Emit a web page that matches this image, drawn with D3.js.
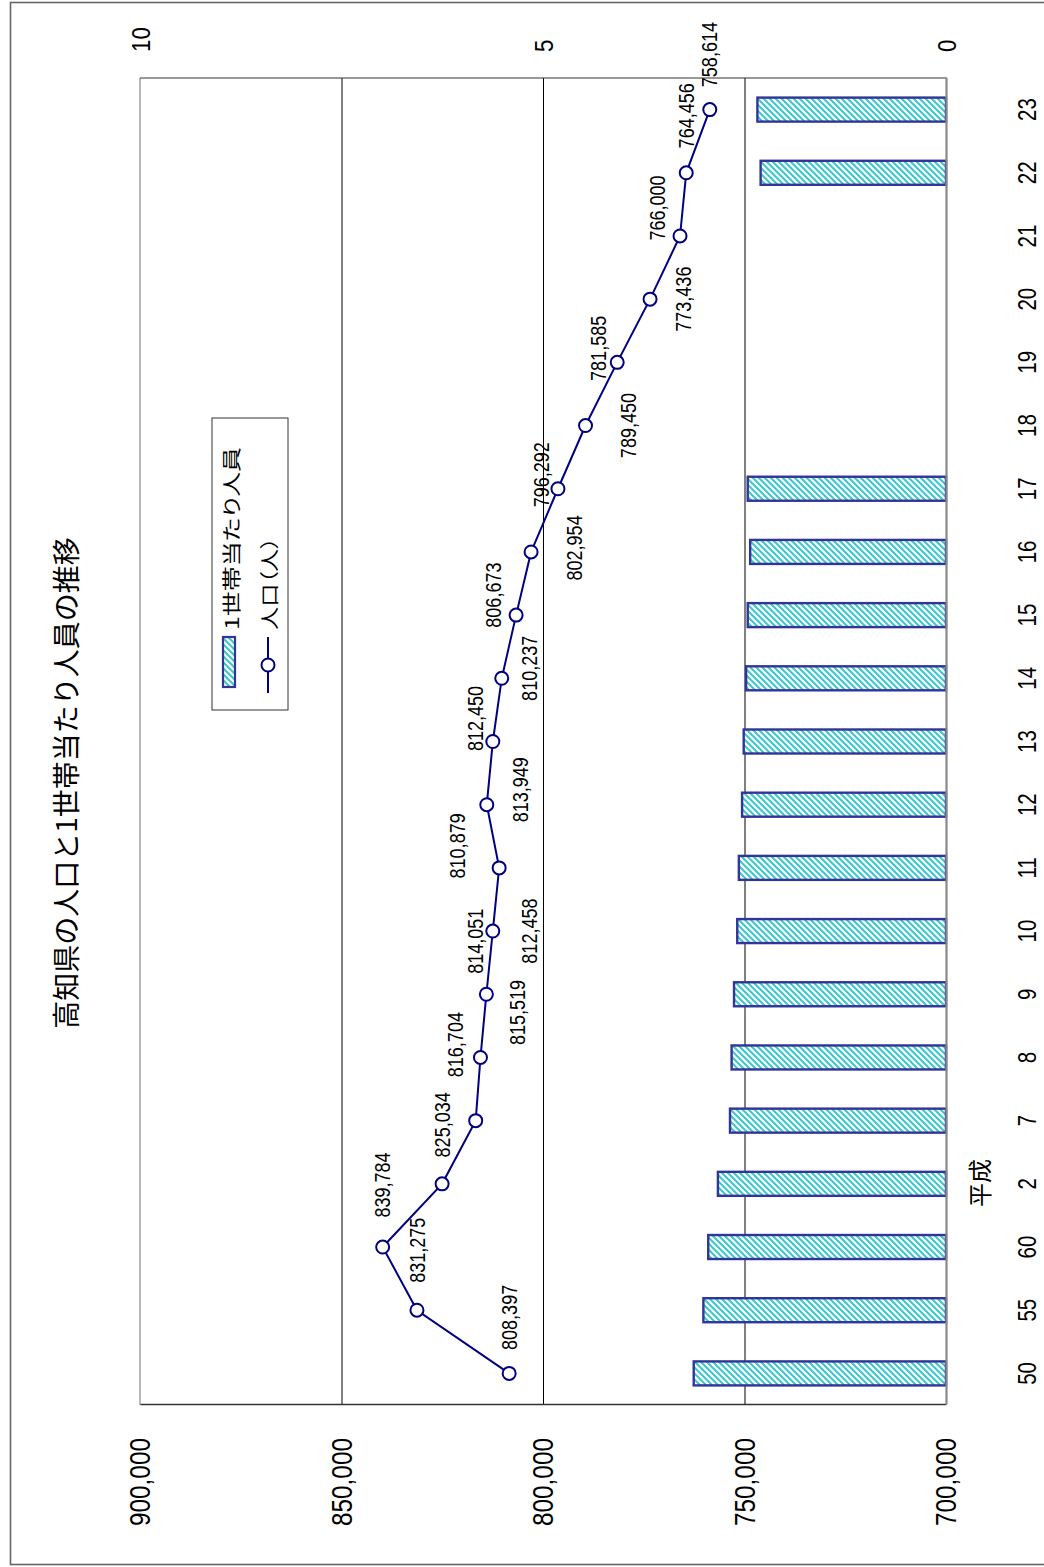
<!DOCTYPE html>
<html><head><meta charset="utf-8">
<script src="https://cdn.jsdelivr.net/npm/d3@7"></script>
<style>body{margin:0;background:#fff}svg{display:block}</style>
</head><body><svg id="c" width="1044" height="1567"></svg>
<script>
// ---------- data ----------
const categories = ["50","55","60","2","7","8","9","10","11","12","13","14","15","16","17","18","19","20","21","22","23"];
const population = [808397,831275,839784,825034,816704,815519,814051,812458,810879,813949,812450,810237,806673,802954,796292,789450,781585,773436,766000,764456,758614];
const perHousehold = [3.13,3.01,2.95,2.83,2.68,2.66,2.63,2.59,2.57,2.53,2.51,2.48,2.46,2.43,2.46,null,null,null,null,2.30,2.34];
const leftTicks = [700000,750000,800000,850000,900000];
const rightTicks = [0,5,10];
const seriesNames = ["1世帯当たり人員","人口（人）"];
const titleText = "高知県の人口と1世帯当たり人員の推移";
const eraLabel = "平成";
// manual nudges of the data labels (layout only): [along category axis, along value axis]
const labelNudge = [[56,0],[60,0],[62,0],[59,0],[76,-20],[45,37],[53,-11],[0,37],[22,-42],[15,34],[23,-17],[10,28],[20,-23],[4,43],[14,-17],[0,43],[14,-19],[0,33],[28,-23],[57,0],[55,0]];

// ---------- drawing (chart is drawn in its own 1567x1044 frame, then turned -90deg) ----------
const W = 1567, H = 1044;
const numFont = "'Liberation Sans', Arial, sans-serif";
const cjkFont = "'Noto Sans CJK JP', sans-serif";
const svg = d3.select("#c");
const defs = svg.append("defs");
const pat = defs.append("pattern").attr("id","hatch").attr("patternUnits","userSpaceOnUse")
  .attr("width",6).attr("height",6);
pat.append("rect").attr("width",6).attr("height",6).attr("fill","#fff");
pat.append("path").attr("d","M0,6L6,0M-1.5,1.5L1.5,-1.5M4.5,7.5L7.5,4.5")
  .attr("stroke","#3CC8CC").attr("stroke-width",2.1);

svg.append("rect").attr("x",10.5).attr("y",2.5).attr("width",1040).attr("height",1562)
  .attr("fill","none").attr("stroke","#666").attr("stroke-width",1.6);

const g = svg.append("g").attr("transform",`translate(0,${W}) rotate(-90)`);
const P = {left:162, right:1489, top:140, bottom:946};
const x = d3.scaleBand().domain(categories).range([P.left,P.right]).padding(0);
const cx = c => x(c) + x.bandwidth()/2;
const yL = d3.scaleLinear().domain([700000,900000]).range([P.bottom,P.top]);
const yR = d3.scaleLinear().domain([0,10]).range([P.bottom,P.top]);

// gridlines
const grid = g.append("g").attr("transform",`translate(${P.left},0)`)
  .call(d3.axisLeft(yL).tickValues(leftTicks.filter(v=>v>700000 && v<900000)).tickSize(-(P.right-P.left)).tickFormat(""));
grid.select(".domain").remove();
grid.selectAll("line").attr("stroke","#000").attr("stroke-width",1);

// frame
g.append("line").attr("x1",P.left).attr("x2",P.right).attr("y1",P.top).attr("y2",P.top).attr("stroke","#888").attr("stroke-width",1.2);
g.append("line").attr("x1",P.right).attr("x2",P.right).attr("y1",P.top).attr("y2",P.bottom).attr("stroke","#333").attr("stroke-width",1.2);

// bars
const bw = 24;
const barData = categories.map((c,i)=>({c, v:perHousehold[i]})).filter(d=>d.v!=null);
g.append("g").selectAll("rect").data(barData).join("rect")
  .attr("x",d=>cx(d.c)-bw/2).attr("width",bw)
  .attr("y",d=>yR(d.v)).attr("height",d=>P.bottom-yR(d.v))
  .attr("fill","url(#hatch)").attr("stroke","#333399").attr("stroke-width",2.4);

// axes
const axL = g.append("g").attr("transform",`translate(${P.left},0)`)
  .call(d3.axisLeft(yL).tickValues(leftTicks).tickSize(0).tickFormat(d3.format(",")));
axL.select(".domain").attr("stroke","#333").attr("stroke-width",1.6);
axL.selectAll("text").attr("x",null).attr("dy",null)
  .attr("transform","translate(-33,0) scale(0.84,1)")
  .attr("text-anchor","end").attr("dominant-baseline","central")
  .style("font-family",numFont).style("font-size","29px").attr("fill","#000");

const axB = g.append("g").attr("transform",`translate(0,${P.bottom})`)
  .call(d3.axisBottom(x).tickSize(0));
axB.select(".domain").attr("stroke","#888").attr("stroke-width",2.2);
axB.selectAll("text").attr("y",null).attr("dy",null)
  .attr("transform","translate(0,81) scale(0.82,1)")
  .attr("text-anchor","middle").attr("dominant-baseline","central")
  .style("font-family",numFont).style("font-size","25px").attr("fill","#000");

const axR = g.append("g").attr("transform",`translate(${P.right},0)`)
  .call(d3.axisRight(yR).tickValues(rightTicks).tickSize(0));
axR.select(".domain").remove();
axR.selectAll("text").attr("x",null).attr("dy",null)
  .attr("transform","translate(26,0) scale(0.86,1)")
  .attr("text-anchor","start").attr("dominant-baseline","central")
  .style("font-family",numFont).style("font-size","26px").attr("fill","#000");

// line series
const lineGen = d3.line().x((d,i)=>cx(categories[i])).y(d=>yL(d));
g.append("path").datum(population).attr("d",lineGen)
  .attr("fill","none").attr("stroke","#000080").attr("stroke-width",2);
g.append("g").selectAll("circle").data(population).join("circle")
  .attr("cx",(d,i)=>cx(categories[i])).attr("cy",d=>yL(d)).attr("r",6.5)
  .attr("fill","#fff").attr("stroke","#000080").attr("stroke-width",2);

// data labels
const fmt = d3.format(",");
g.append("g").selectAll("text").data(population).join("text")
  .attr("transform",(d,i)=>`translate(${cx(categories[i])+labelNudge[i][0]},${yL(d)+labelNudge[i][1]}) scale(0.82,1)`)
  .attr("text-anchor","middle").attr("dominant-baseline","central")
  .style("font-family",numFont).style("font-size","22px").attr("fill","#000")
  .text(d=>fmt(d));

// era label
g.append("text").attr("transform","translate(384,978)")
  .attr("text-anchor","middle").attr("dominant-baseline","central")
  .style("font-family",cjkFont).style("font-size","24px").text(eraLabel);

// title
g.append("text").attr("transform","translate(784,65)")
  .attr("text-anchor","middle").attr("dominant-baseline","central")
  .style("font-family",cjkFont).style("font-size","28px").text(titleText);

// legend
const lg = g.append("g");
lg.append("rect").attr("x",857).attr("y",212).attr("width",292).attr("height",76)
  .attr("fill","#fff").attr("stroke","#333").attr("stroke-width",1);
lg.append("rect").attr("x",880).attr("y",223).attr("width",50).attr("height",12)
  .attr("fill","url(#hatch)").attr("stroke","#333399").attr("stroke-width",2.2);
lg.append("line").attr("x1",874).attr("x2",930).attr("y1",268).attr("y2",268)
  .attr("stroke","#000080").attr("stroke-width",2);
lg.append("circle").attr("cx",902).attr("cy",268).attr("r",6.5)
  .attr("fill","#fff").attr("stroke","#000080").attr("stroke-width",2);
const legLen = [183, 93];
lg.selectAll("text.leg").data(seriesNames).join("text").attr("class","leg")
  .attr("x",937).attr("y",(d,i)=>i===0?230:268)
  .attr("dominant-baseline","central")
  .attr("textLength",(d,i)=>legLen[i]).attr("lengthAdjust","spacingAndGlyphs")
  .style("font-family",cjkFont).style("font-size","19px")
  .style("font-feature-settings","'palt'")
  .text(d=>d);
</script></body></html>
